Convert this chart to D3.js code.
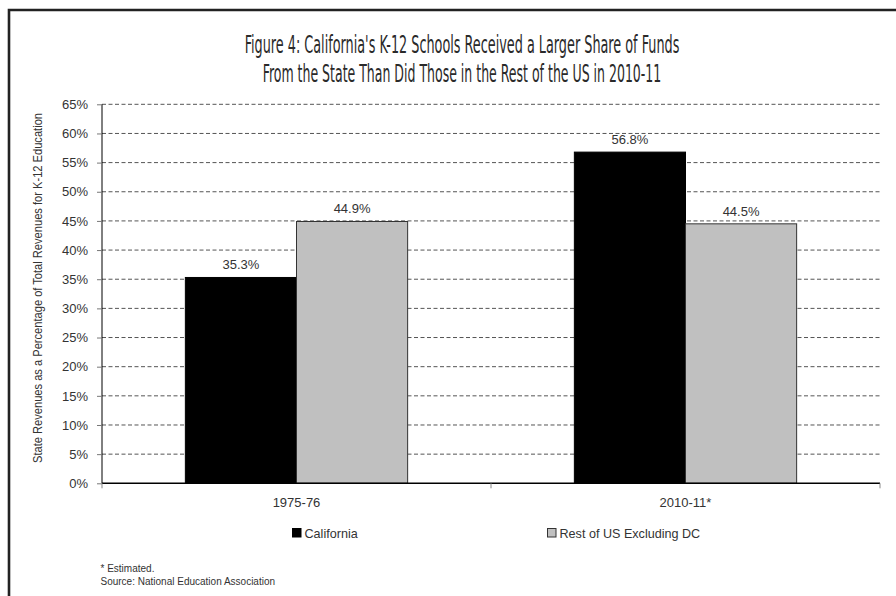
<!DOCTYPE html>
<html>
<head>
<meta charset="utf-8">
<script src="https://cdn.jsdelivr.net/npm/d3@7"></script>
<style>
  html, body { margin: 0; padding: 0; background: #fff; }
  svg { display: block; }
  text { font-family: "Liberation Sans", Arial, sans-serif; fill: #333; }
</style>
</head>
<body>
<svg id="chart" width="896" height="596"></svg>
<script>
// ---- data ----
const titleLines = [
  "Figure 4: California's K-12 Schools Received a Larger Share of Funds",
  "From the State Than Did Those in the Rest of the US in 2010-11"
];
const categories = ["1975-76", "2010-11*"];
const seriesNames = ["California", "Rest of US Excluding DC"];
const california = [35.3, 56.8];
const restOfUS = [44.9, 44.5];
const yTicks = [0, 5, 10, 15, 20, 25, 30, 35, 40, 45, 50, 55, 60, 65];
const yAxisTitle = "State Revenues as a Percentage of Total Revenues for K-12 Education";
const footnotes = ["* Estimated.", "Source: National Education Association"];

const seriesValues = [california, restOfUS];
const seriesFill = ["#000000", "#c0c0c0"];
const seriesStroke = ["#000000", "#333333"];

const svg = d3.select("#chart");

// frame
svg.append("path")
  .attr("d", "M9,596V10H896")
  .attr("fill", "none")
  .attr("stroke", "#222")
  .attr("stroke-width", 2.6);

// title (condensed by horizontal scaling to the reference width)
const titleWidths = [435, 399];
const titleBase = [53, 81.5];
titleLines.forEach((t, i) => {
  const g = svg.append("g");
  const txt = g.append("text")
    .attr("x", 0)
    .attr("y", 0)
    .attr("text-anchor", "middle")
    .style("font-family", "'DejaVu Sans Condensed', 'Liberation Sans Narrow', 'DejaVu Sans', sans-serif")
    .style("font-stretch", "condensed")
    .style("font-size", "24.5px")
    .style("fill", "#2a2a2a")
    .text(t);
  const w = txt.node().getComputedTextLength();
  const sx = titleWidths[i] / w;
  g.attr("transform", `translate(462,${titleBase[i]}) scale(${sx},1)`);
});

// scales
const pLeft = 102, pRight = 880, pTop = 104.3, pBottom = 483.3;
const x0 = d3.scaleBand().domain(categories).range([pLeft, pRight]).padding(0);
const x1 = d3.scaleBand().domain(seriesNames).range([0, x0.bandwidth()])
  .paddingInner(0).paddingOuter(0.75);
const y = d3.scaleLinear().domain([0, 65]).range([pBottom, pTop]);

// gridlines
svg.append("g")
  .selectAll("line")
  .data(yTicks.filter(d => d > 0))
  .join("line")
  .attr("x1", pLeft).attr("x2", pRight)
  .attr("y1", d => y(d)).attr("y2", d => y(d))
  .attr("stroke", "#555")
  .attr("stroke-width", 1)
  .attr("stroke-dasharray", "4,2.5");

// bars
const groups = svg.append("g")
  .selectAll("g")
  .data(categories)
  .join("g")
  .attr("transform", d => `translate(${x0(d)},0)`);

groups.each(function(cat, ci) {
  const g = d3.select(this);
  seriesNames.forEach((s, si) => {
    const v = seriesValues[si][ci];
    g.append("rect")
      .attr("x", x1(s))
      .attr("y", y(v))
      .attr("width", x1.bandwidth())
      .attr("height", y(0) - y(v))
      .attr("fill", seriesFill[si])
      .attr("stroke", seriesStroke[si])
      .attr("stroke-width", 1);
    g.append("text")
      .attr("x", x1(s) + x1.bandwidth() / 2)
      .attr("y", y(v) - 8)
      .attr("text-anchor", "middle")
      .style("font-size", "13px")
      .text(v.toFixed(1) + "%");
  });
});

// y axis
const yAxis = d3.axisLeft(y)
  .tickValues(yTicks)
  .tickFormat(d => d + "%")
  .tickSize(5)
  .tickPadding(9);
const yG = svg.append("g")
  .attr("transform", `translate(${pLeft},0)`)
  .call(yAxis);
yG.select(".domain").attr("stroke", "#000").attr("d", `M0,${pTop}V${pBottom}`);
yG.selectAll(".tick line").attr("stroke", "#777");
yG.selectAll(".tick text").style("font-size", "13px").style("fill", "#333")
  .style("font-family", "'Liberation Sans', Arial, sans-serif");

// x axis
const xAxis = d3.axisBottom(x0).tickSize(0).tickPadding(14);
const xG = svg.append("g")
  .attr("transform", `translate(0,${pBottom})`)
  .call(xAxis);
xG.select(".domain").attr("stroke", "#000").attr("stroke-width", 1.5)
  .attr("d", `M${pLeft},0H${pRight}`);
xG.selectAll(".tick text").style("font-size", "13px").style("fill", "#333")
  .style("font-family", "'Liberation Sans', Arial, sans-serif");
// boundary tick marks
xG.append("g").selectAll("line")
  .data([pLeft, (pLeft + pRight) / 2, pRight])
  .join("line")
  .attr("x1", d => d).attr("x2", d => d)
  .attr("y1", 0).attr("y2", 5)
  .attr("stroke", "#888");

// y axis title
svg.append("text")
  .attr("transform", "translate(42,288) rotate(-90)")
  .attr("text-anchor", "middle")
  .attr("textLength", 350)
  .attr("lengthAdjust", "spacingAndGlyphs")
  .style("font-size", "12px")
  .text(yAxisTitle);

// legend
const legendX = [292.5, 547.5];
const legend = svg.append("g");
seriesNames.forEach((s, i) => {
  legend.append("rect")
    .attr("x", legendX[i]).attr("y", 528.5)
    .attr("width", 8.5).attr("height", 8.5)
    .attr("fill", seriesFill[i])
    .attr("stroke", seriesStroke[i]).attr("stroke-width", 1);
  legend.append("text")
    .attr("x", legendX[i] + 12).attr("y", 538)
    .style("font-size", "12.6px")
    .text(s);
});

// footnotes
footnotes.forEach((t, i) => {
  svg.append("text")
    .attr("x", 100.5).attr("y", 571.5 + i * 13.5)
    .style("font-size", "10px")
    .text(t);
});
</script>
</body>
</html>
